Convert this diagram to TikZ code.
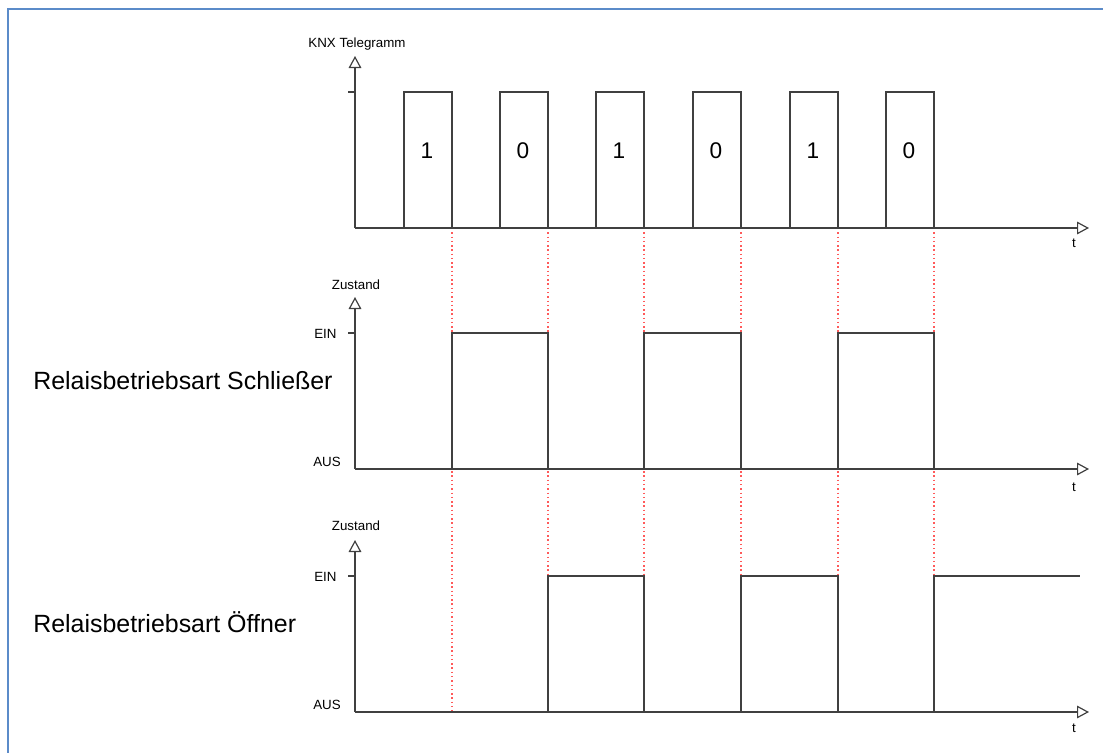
\documentclass[tikz,border=0pt]{standalone}
\usepackage{fontspec}
\setmainfont{Liberation Sans}
\usetikzlibrary{arrows.meta,positioning,calc}
\definecolor{axisgray}{HTML}{404040}
\definecolor{frameblue}{HTML}{5B8BC9}
\definecolor{edgered}{HTML}{FF5A5A}

\begin{document}
\begin{tikzpicture}[
    x=0.75pt, y=-0.75pt,
    every node/.style={font=\fontsize{10}{12}\selectfont, inner sep=0pt},
    axis/.style={-{Triangle[open, length=9pt, width=9.5pt]}, line width=0.9pt, axisgray},
    signal/.style={line width=0.9pt, axisgray},
    tick/.style={line width=0.9pt, axisgray},
    edgeline/.style={edgered, line width=1.1pt, dash pattern=on 1.1pt off 2.1pt},
    bitlabel/.style={font=\fontsize{17}{20}\selectfont},
    modelabel/.style={font=\fontsize{18.7}{22}\selectfont, anchor=west},
    levellabel/.style={anchor=west},
]
\useasboundingbox (0,0) rectangle (1103,753);

% --- Frame ---
\draw[frameblue, line width=2.2pt] (8,753) -- (8,9) -- (1103,9);

% --- Origins and axis ends ---
\coordinate (o1) at (355,228);
\coordinate (o2) at (355,469);
\coordinate (o3) at (355,712);
\coordinate (ytop1) at (355,56);
\coordinate (ytop2) at (355,297);
\coordinate (ytop3) at (355,540);
\coordinate (xend1) at (1089,228);
\coordinate (xend2) at (1089,469);
\coordinate (xend3) at (1089,712);

% --- Red switching lines ---
\draw[edgeline] (452,228) -- (452,712);
\draw[edgeline] (548,228) -- (548,712);
\draw[edgeline] (644,228) -- (644,712);
\draw[edgeline] (741,228) -- (741,712);
\draw[edgeline] (838,228) -- (838,712);
\draw[edgeline] (934,228) -- (934,712);

% --- Panel 1: KNX telegrams ---
\draw[axis] (o1) -- (ytop1);
\draw[axis] (o1) -- (xend1);
\draw[tick] (348,92) -- (355,92);
\node (knx) at (357,44) {KNX Telegramm};
\node (t1) at (1074,243) {t};

\draw[signal] (404,228) rectangle (452,92);
\draw[signal] (500,228) rectangle (548,92);
\draw[signal] (596,228) rectangle (644,92);
\draw[signal] (693,228) rectangle (741,92);
\draw[signal] (790,228) rectangle (838,92);
\draw[signal] (886,228) rectangle (934,92);

\node[bitlabel] (bit1) at (427,151) {1};
\node[bitlabel] (bit2) at (523,151) {0};
\node[bitlabel] (bit3) at (619,151) {1};
\node[bitlabel] (bit4) at (716,151) {0};
\node[bitlabel] (bit5) at (813,151) {1};
\node[bitlabel] (bit6) at (909,151) {0};

% --- Panel 2: Schliesser ---
\draw[axis] (o2) -- (ytop2);
\draw[axis] (o2) -- (xend2);
\draw[tick] (348,333) -- (355,333);
\node (state2) at (356,285) {Zustand};
\node[levellabel] (ein2) at (314,334) {EIN};
\node[levellabel] (aus2) at (313,462) {AUS};
\node (t2) at (1074,487) {t};
\node[modelabel] (mode2) at (33,381) {Relaisbetriebsart Schließer};

\draw[signal] (452,469) -- (452,333) -- (548,333) -- (548,469);
\draw[signal] (644,469) -- (644,333) -- (741,333) -- (741,469);
\draw[signal] (838,469) -- (838,333) -- (934,333) -- (934,469);

% --- Panel 3: Oeffner ---
\draw[axis] (o3) -- (ytop3);
\draw[axis] (o3) -- (xend3);
\draw[tick] (348,576) -- (355,576);
\node (state3) at (356,526) {Zustand};
\node[levellabel] (ein3) at (314,577) {EIN};
\node[levellabel] (aus3) at (313,705) {AUS};
\node (t3) at (1074,728) {t};
\node[modelabel] (mode3) at (33,622) {Relaisbetriebsart Öffner};

\draw[signal] (548,712) -- (548,576) -- (644,576) -- (644,712);
\draw[signal] (741,712) -- (741,576) -- (838,576) -- (838,712);
\draw[signal] (934,712) -- (934,576) -- (1080,576);

\end{tikzpicture}
\end{document}
